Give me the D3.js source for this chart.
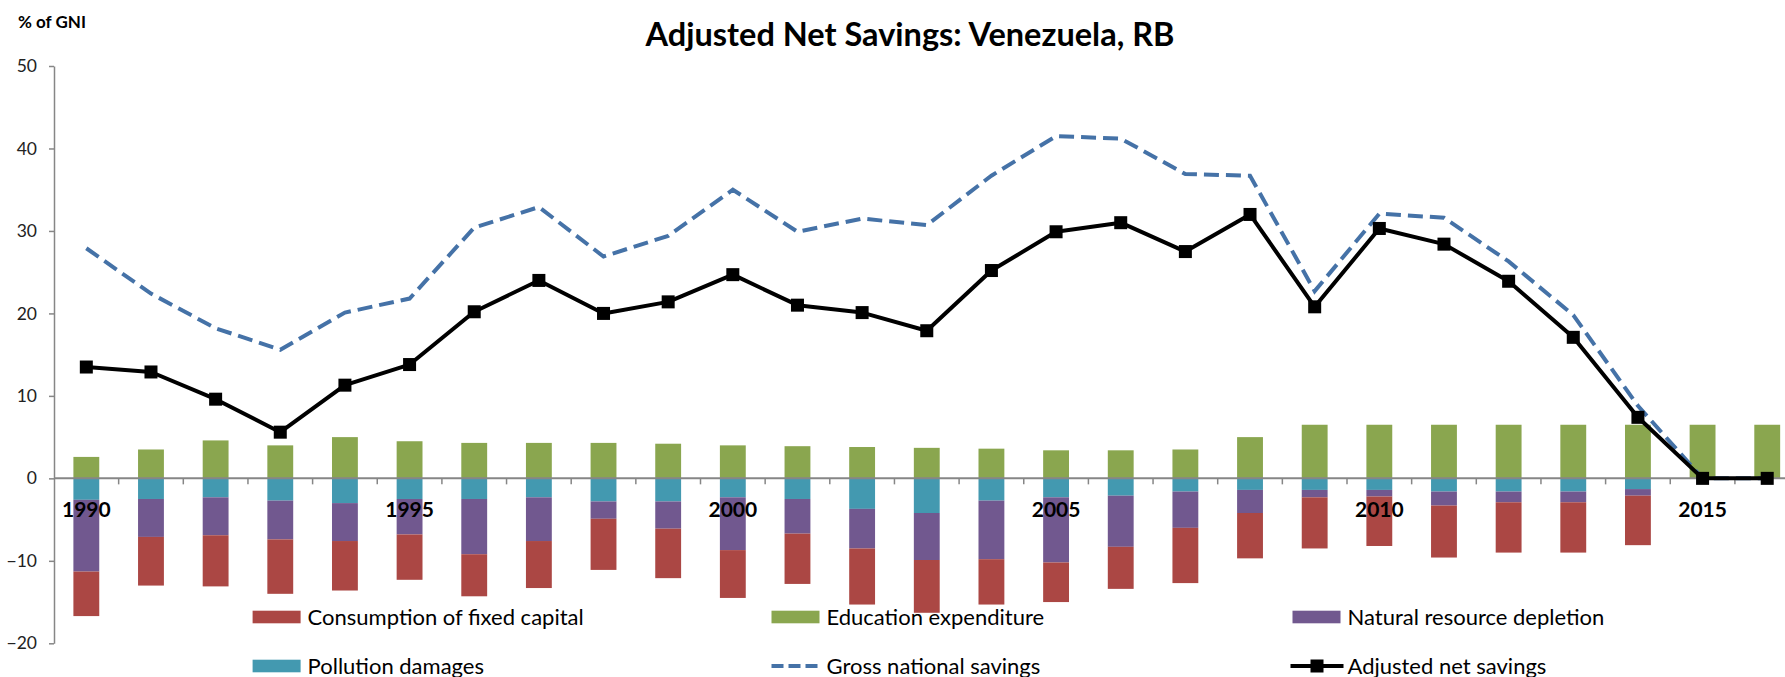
<!DOCTYPE html>
<html>
<head>
<meta charset="utf-8">
<script src="https://cdn.jsdelivr.net/npm/d3@7"></script>
<style>
  body { margin: 0; background: #fff; }
  svg { display: block; font-family: Lato, "Open Sans", sans-serif; }
</style>
</head>
<body>
<div id="chart"></div>
<script>
// data (% of GNI)
const years = [1990, 1991, 1992, 1993, 1994, 1995, 1996, 1997, 1998, 1999, 2000, 2001, 2002, 2003,
  2004, 2005, 2006, 2007, 2008, 2009, 2010, 2011, 2012, 2013, 2014, 2015, 2016];
const education = [2.6, 3.5, 4.6, 4.0, 5.0, 4.5, 4.3, 4.3, 4.3, 4.2, 4.0, 3.9, 3.8, 3.7,
  3.6, 3.4, 3.4, 3.5, 5.0, 6.5, 6.5, 6.5, 6.5, 6.5, 6.5, 6.5, 6.5];
const pollution = [2.6, 2.5, 2.3, 2.7, 3.0, 2.5, 2.5, 2.3, 2.8, 2.8, 2.3, 2.5, 3.7, 4.2,
  2.7, 2.3, 2.1, 1.6, 1.4, 1.4, 1.4, 1.6, 1.6, 1.6, 1.3, 0, 0];
const naturalDepletion = [8.7, 4.6, 4.6, 4.7, 4.6, 4.3, 6.7, 5.3, 2.1, 3.3, 6.4, 4.2, 4.8, 5.7,
  7.1, 7.9, 6.2, 4.4, 2.8, 0.9, 0.8, 1.7, 1.3, 1.3, 0.8, 0, 0];
const fixedCapital = [5.4, 5.9, 6.2, 6.6, 6.0, 5.5, 5.1, 5.7, 6.2, 6.0, 5.8, 6.1, 6.8, 6.4,
  5.5, 4.8, 5.1, 6.7, 5.5, 6.2, 6.0, 6.3, 6.1, 6.1, 6.0, 0, 0];
const grossSavings = [27.9, 22.4, 18.2, 15.6, 20.1, 21.8, 30.4, 32.9, 26.9, 29.4, 35.0, 29.9, 31.5, 30.7,
  36.7, 41.5, 41.2, 36.9, 36.7, 22.7, 32.1, 31.6, 26.3, 19.8, 8.8, 0, 0];
const adjustedSavings = [13.5, 12.9, 9.6, 5.6, 11.3, 13.8, 20.2, 24.0, 20.0, 21.4, 24.7, 21.0, 20.1, 17.9,
  25.2, 29.9, 31.0, 27.5, 32.0, 20.8, 30.3, 28.4, 23.9, 17.1, 7.4, 0, 0];
const yTicks = [-20, -10, 0, 10, 20, 30, 40, 50];
const xLabels = [1990, 1995, 2000, 2005, 2010, 2015];

const barKeys = ["education", "pollution", "natural", "fixed"];
const barColors = { education: "#8aa64f", pollution: "#4399b0", natural: "#71588f", fixed: "#ab4744" };

const legendItems = [
  { label: "Consumption of fixed capital", type: "bar", key: "fixed" },
  { label: "Education expenditure", type: "bar", key: "education" },
  { label: "Natural resource depletion", type: "bar", key: "natural" },
  { label: "Pollution damages", type: "bar", key: "pollution" },
  { label: "Gross national savings", type: "dash" },
  { label: "Adjusted net savings", type: "marker" },
];

const width = 1785, height = 677;
const plotLeft = 54, step = 64.65;

const svg = d3.select("#chart").append("svg").attr("width", width).attr("height", height);
svg.append("rect").attr("width", width).attr("height", height).attr("fill", "#fff");

const x = d3.scaleBand()
  .domain(years)
  .range([plotLeft, plotLeft + step * years.length])
  .paddingInner(0.6)
  .paddingOuter(0.3);

const y = d3.scaleLinear().domain([-20, 50]).range([643.3, 66]);
const cx = (yr) => x(yr) + x.bandwidth() / 2;

// rows for the stack, costs go below zero
const rows = years.map((yr, i) => ({
  year: yr,
  education: education[i],
  pollution: -pollution[i],
  natural: -naturalDepletion[i],
  fixed: -fixedCapital[i],
}));

const stacked = d3.stack().keys(barKeys).offset(d3.stackOffsetDiverging)(rows);

svg.append("g")
  .selectAll("g")
  .data(stacked)
  .enter()
  .append("g")
  .attr("fill", (d) => barColors[d.key])
  .selectAll("rect")
  .data((d) => d)
  .enter()
  .append("rect")
  .attr("x", (d) => x(d.data.year))
  .attr("width", x.bandwidth())
  .attr("y", (d) => y(Math.max(d[0], d[1])))
  .attr("height", (d) => Math.abs(y(d[0]) - y(d[1])));

// y axis
const yAxis = svg.append("g")
  .attr("transform", `translate(${plotLeft},0)`)
  .call(d3.axisLeft(y).tickValues(yTicks).tickSize(5).tickSizeOuter(0).tickPadding(12));
yAxis.select(".domain").attr("stroke", "#868686").attr("stroke-width", 1.5);
yAxis.selectAll(".tick line").attr("stroke", "#868686").attr("stroke-width", 1.5);
yAxis.selectAll("text").attr("font-size", 17.5).attr("fill", "#222").attr("font-family", "Lato");

// x axis line at zero with ticks between categories
const xAxis = svg.append("g");
xAxis.append("line")
  .attr("x1", plotLeft).attr("x2", width)
  .attr("y1", y(0)).attr("y2", y(0))
  .attr("stroke", "#868686").attr("stroke-width", 2);
xAxis.selectAll(".sep")
  .data(years)
  .enter()
  .append("line")
  .attr("x1", (d) => cx(d) + step / 2)
  .attr("x2", (d) => cx(d) + step / 2)
  .attr("y1", y(0)).attr("y2", y(0) + 6)
  .attr("stroke", "#868686").attr("stroke-width", 1.5);

// lines
const line = d3.line().x((d) => cx(d.year)).y((d) => y(d.v));
const gnsData = years.map((yr, i) => ({ year: yr, v: grossSavings[i] }));
const ansData = years.map((yr, i) => ({ year: yr, v: adjustedSavings[i] }));

svg.append("path")
  .datum(gnsData)
  .attr("d", line)
  .attr("fill", "none")
  .attr("stroke", "#4572a7")
  .attr("stroke-width", 4)
  .attr("stroke-dasharray", "15,7");

svg.append("path")
  .datum(ansData)
  .attr("d", line)
  .attr("fill", "none")
  .attr("stroke", "#000")
  .attr("stroke-width", 4)
  .attr("stroke-linejoin", "round");

svg.append("g")
  .selectAll("rect")
  .data(ansData)
  .enter()
  .append("rect")
  .attr("x", (d) => cx(d.year) - 6.5)
  .attr("y", (d) => y(d.v) - 6.5)
  .attr("width", 13)
  .attr("height", 13)
  .attr("fill", "#000");

// year labels sit just under the zero line, over the bars
svg.append("g")
  .selectAll("text")
  .data(xLabels)
  .enter()
  .append("text")
  .attr("x", (d) => cx(d))
  .attr("y", 517)
  .attr("text-anchor", "middle")
  .attr("font-size", 21)
  .attr("font-weight", "bold")
  .attr("fill", "#000")
  .text((d) => d);

// titles
svg.append("text")
  .attr("x", 910)
  .attr("y", 46)
  .attr("text-anchor", "middle")
  .attr("font-size", 32.5)
  .attr("font-weight", "bold")
  .text("Adjusted Net Savings: Venezuela, RB");

svg.append("text")
  .attr("x", 18)
  .attr("y", 28)
  .attr("font-size", 17)
  .attr("font-weight", "bold")
  .text("% of GNI");

// legend, three columns by two rows
const legendCols = [252.6, 771.5, 1292.5];
const legendRows = [617, 666];
const legend = svg.append("g")
  .selectAll("g")
  .data(legendItems)
  .enter()
  .append("g")
  .attr("transform", (d, i) => `translate(${legendCols[i % 3]},${legendRows[Math.floor(i / 3)]})`);

legend.filter((d) => d.type === "bar")
  .append("rect")
  .attr("x", 0).attr("y", -6.3)
  .attr("width", 48).attr("height", 12.6)
  .attr("fill", (d) => barColors[d.key]);

legend.filter((d) => d.type === "dash")
  .append("line")
  .attr("x1", 0).attr("x2", 50).attr("y1", 0).attr("y2", 0)
  .attr("stroke", "#4572a7").attr("stroke-width", 4)
  .attr("stroke-dasharray", "12,5");

const markerItem = legend.filter((d) => d.type === "marker");
markerItem.append("line")
  .attr("x1", -2).attr("x2", 51).attr("y1", 0).attr("y2", 0)
  .attr("stroke", "#000").attr("stroke-width", 4);
markerItem.append("rect")
  .attr("x", 18).attr("y", -6.5).attr("width", 13).attr("height", 13).attr("fill", "#000");

legend.append("text")
  .attr("x", 55)
  .attr("y", 7.5)
  .attr("font-size", 22)
  .attr("fill", "#000")
  .text((d) => d.label);
</script>
</body>
</html>
